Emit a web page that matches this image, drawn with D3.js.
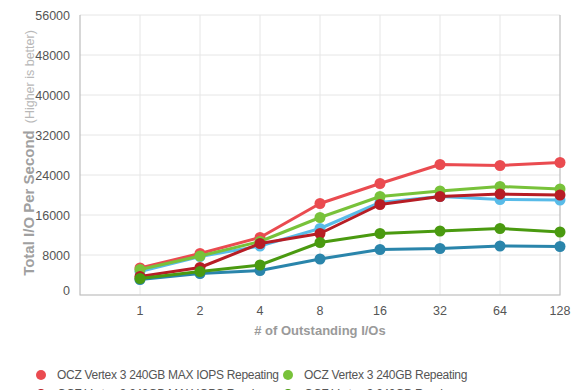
<!DOCTYPE html>
<html>
<head>
<meta charset="utf-8">
<script src="https://cdn.jsdelivr.net/npm/d3@7/dist/d3.min.js"></script>
<style>
  html, body { margin: 0; padding: 0; background: #fff; overflow: hidden; }
</style>
</head>
<body>
<div id="chart"></div>
<script>
const queueDepths = ["1", "2", "4", "8", "16", "32", "64", "128"];
const yTicks = [0, 8000, 16000, 24000, 32000, 40000, 48000, 56000];

const maxIopsRepeating = [5400, 8300, 11500, 18300, 22300, 26100, 25900, 26500];
const repeating = [5100, 7800, 10700, 15500, 19700, 20800, 21700, 21200];
const maxIopsRandom = [3700, 5500, 10300, 12300, 18100, 19700, 20200, 20000];
const random = [3300, 4700, 6000, 10500, 12300, 12800, 13300, 12600];
const maxIopsSequential = [4700, 7700, 9800, 13300, 18500, 19700, 19100, 19000];
const sequential = [3100, 4300, 4900, 7200, 9100, 9300, 9800, 9700];

const seriesNames = [
  "OCZ Vertex 3 240GB MAX IOPS Repeating",
  "OCZ Vertex 3 240GB Repeating",
  "OCZ Vertex 3 240GB MAX IOPS Random",
  "OCZ Vertex 3 240GB Random",
  "OCZ Vertex 3 240GB MAX IOPS Sequential",
  "OCZ Vertex 3 240GB Sequential",
];
const seriesValues = [maxIopsRepeating, repeating, maxIopsRandom, random, maxIopsSequential, sequential];
const seriesColors = ["#ea4b50", "#78c23a", "#b71d25", "#4a9a10", "#58bbe8", "#2a85ab"];
// which series sits on top (drawn last)
const drawOrder = [5, 4, 0, 1, 2, 3];

const width = 580;
const height = 390;
const plotLeft = 80, plotRight = 560, plotTop = 15, plotBottom = 295;
const font = "'Liberation Sans', Arial, Helvetica, sans-serif";

const svg = d3.select("#chart")
  .append("svg")
  .attr("width", width)
  .attr("height", height)
  .style("font-family", font);

// one empty slot before "1"
const x = d3.scaleLinear().domain([-1, queueDepths.length - 1]).range([plotLeft, plotRight]);
const y = d3.scaleLinear().domain([0, 56000]).range([plotBottom, plotTop]);

// soft shadow under the x axis
const defs = svg.append("defs");
const grad = defs.append("radialGradient").attr("id", "shadow")
  .attr("cx", "50%").attr("cy", "0%").attr("r", "50%");
grad.append("stop").attr("offset", "0%").attr("stop-color", "#000").attr("stop-opacity", 0.07);
grad.append("stop").attr("offset", "100%").attr("stop-color", "#000").attr("stop-opacity", 0);
svg.append("ellipse")
  .attr("cx", (plotLeft + plotRight) / 2)
  .attr("cy", plotBottom)
  .attr("rx", (plotRight - plotLeft) / 2 + 20)
  .attr("ry", 22)
  .attr("fill", "url(#shadow)");
svg.append("rect")
  .attr("x", plotLeft).attr("y", plotTop)
  .attr("width", plotRight - plotLeft).attr("height", plotBottom - plotTop)
  .attr("fill", "#fff");

// grid
svg.append("g")
  .selectAll("line")
  .data(yTicks)
  .join("line")
  .attr("x1", plotLeft).attr("x2", plotRight)
  .attr("y1", d => y(d)).attr("y2", d => y(d))
  .attr("stroke", "#e6e6e6")
  .attr("stroke-width", 1);

svg.append("g")
  .selectAll("line")
  .data(queueDepths.slice(0, -1))
  .join("line")
  .attr("x1", (d, i) => x(i)).attr("x2", (d, i) => x(i))
  .attr("y1", plotTop).attr("y2", plotBottom)
  .attr("stroke", "#e6e6e6")
  .attr("stroke-width", 1);

// frame
svg.append("path")
  .attr("d", `M${plotLeft},${plotTop} V${plotBottom} H${plotRight} V${plotTop}`)
  .attr("fill", "none")
  .attr("stroke", "#bdbdbd")
  .attr("stroke-width", 1.2);

// y axis labels
const yAxis = d3.axisLeft(y).tickValues(yTicks).tickFormat(d3.format("d")).tickSize(0).tickPadding(10);
svg.append("g")
  .attr("transform", `translate(${plotLeft},0)`)
  .call(yAxis)
  .call(g => g.select(".domain").remove())
  .call(g => g.selectAll("text")
    .attr("fill", "#555")
    .attr("font-size", "12.5px")
    .attr("font-family", font)
    .attr("dy", (d) => d === 0 ? "-0.05em" : "0.32em"));

// x axis labels
svg.append("g")
  .selectAll("text")
  .data(queueDepths)
  .join("text")
  .attr("x", (d, i) => x(i))
  .attr("y", plotBottom + 20)
  .attr("text-anchor", "middle")
  .attr("font-size", "12.5px")
  .attr("fill", "#555")
  .text(d => d);

svg.append("text")
  .attr("x", (plotLeft + plotRight) / 2)
  .attr("y", plotBottom + 40)
  .attr("text-anchor", "middle")
  .attr("font-size", "13px")
  .attr("font-weight", "bold")
  .attr("fill", "#9a9a9a")
  .text("# of Outstanding I/Os");

const yTitle = svg.append("text")
  .attr("transform", `translate(34,${(plotTop + plotBottom) / 2 - 2}) rotate(-90)`)
  .attr("text-anchor", "middle")
  .attr("fill", "#a0a0a0");
yTitle.append("tspan")
  .attr("font-size", "15px")
  .attr("font-weight", "bold")
  .text("Total I/O Per Second");
yTitle.append("tspan")
  .attr("font-size", "12.5px")
  .attr("font-weight", "normal")
  .attr("fill", "#b8b8b8")
  .attr("dx", "7")
  .text("(Higher is better)");

// lines and markers
const line = d3.line()
  .x((d, i) => x(i))
  .y(d => y(d));

drawOrder.forEach(s => {
  const g = svg.append("g");
  g.append("path")
    .datum(seriesValues[s])
    .attr("d", line)
    .attr("fill", "none")
    .attr("stroke", seriesColors[s])
    .attr("stroke-width", 3)
    .attr("stroke-linejoin", "round");
  g.selectAll("circle")
    .data(seriesValues[s])
    .join("circle")
    .attr("cx", (d, i) => x(i))
    .attr("cy", d => y(d))
    .attr("r", 5.5)
    .attr("fill", seriesColors[s]);
});

// legend (two columns, continues below the visible area)
const legend = svg.append("g");
seriesNames.forEach((name, i) => {
  const col = i % 2;
  const row = Math.floor(i / 2);
  const lx = col === 0 ? 41 : 288;
  const ly = 375 + row * 19;
  legend.append("circle")
    .attr("cx", lx).attr("cy", ly)
    .attr("r", 5)
    .attr("fill", seriesColors[i]);
  legend.append("text")
    .attr("x", lx + 16)
    .attr("y", ly)
    .attr("dy", "0.35em")
    .attr("font-size", "12px")
    .attr("letter-spacing", "-0.3px")
    .attr("fill", "#555")
    .text(name);
});
</script>
</body>
</html>
